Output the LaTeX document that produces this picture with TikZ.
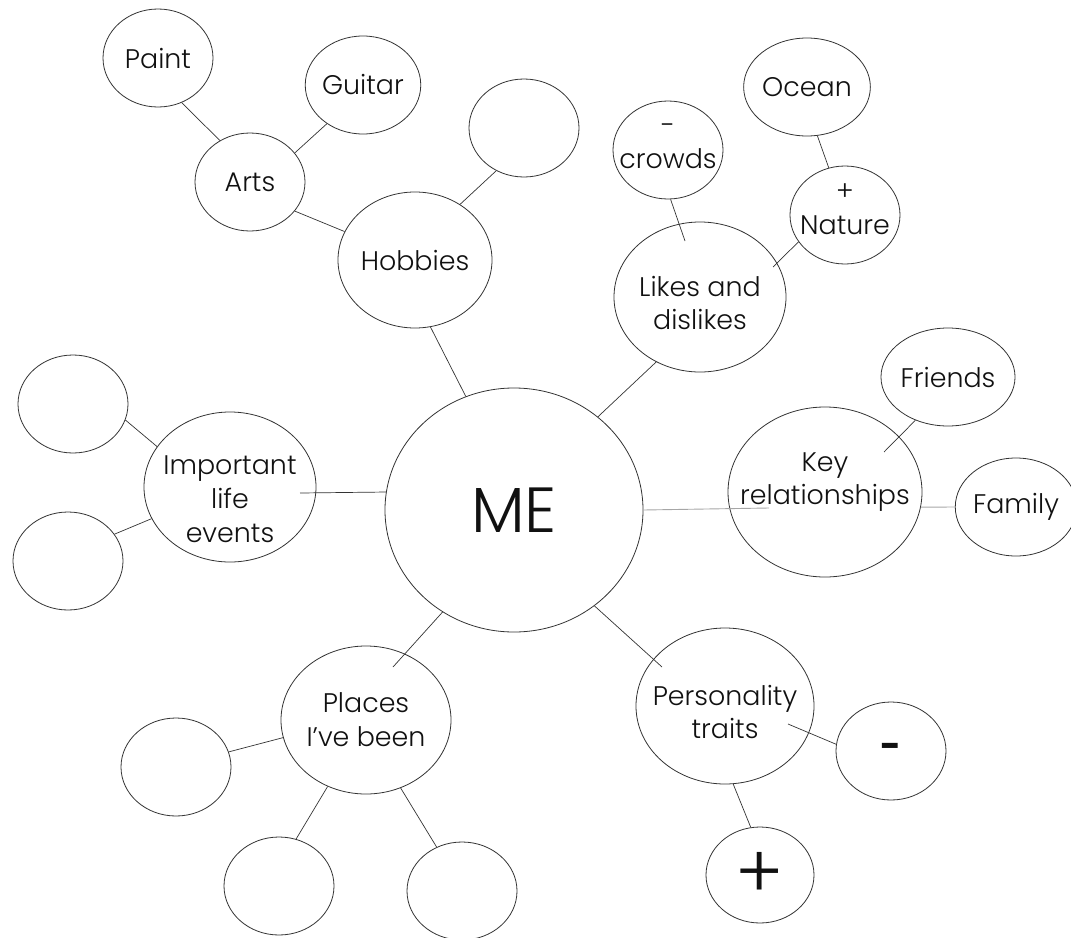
\documentclass[tikz,border=0pt]{standalone}
\usepackage{fontspec}
\setmainfont{Poppins Light}
\newfontfamily\heavy{Poppins}
\usetikzlibrary{shapes.geometric}
\definecolor{rim}{HTML}{333333}
\definecolor{ink}{HTML}{111111}
\tikzset{
  bubble/.style={ellipse, draw=rim, line width=0.8bp, inner sep=0pt, align=center,
    text=ink, font=\fontsize{27}{34}\selectfont},
  small/.style={bubble, minimum width=110bp, minimum height=98bp},
  nudge/.style={align=center, text=ink, font=\fontsize{27}{34}\selectfont, yshift=#1},
  link/.style={draw=rim, line width=0.7bp},
  pale/.style={draw=gray!70, line width=0.9bp}
}
\newcommand{\blank}[2]{\node[small] (#1) at #2 {};}

\begin{document}
\begin{tikzpicture}[x=1bp, y=-1bp]
    \useasboundingbox (0,0) rectangle (1071,938);
    \node[bubble, minimum width=258bp, minimum height=244bp, font=\fontsize{64}{70}\selectfont] (me) at (514,510) {ME};
    \node[bubble, minimum width=154bp, minimum height=136bp] (hobbies) at (415,260) {Hobbies};
    \node[small] (arts) at (250,182) {Arts};
    \node[small] (paint) at (158,58) {Paint};
    \node[small] (guitar) at (363,85) {Guitar};
    \blank{hobbyx}{(524,128)}
    \node[bubble, minimum width=172bp, minimum height=150bp,
      label={[nudge=-6bp]center:Likes and\\dislikes}] (likes) at (700,297) {};
    \node[small, label={[nudge=4bp]center:-\\crowds}] (crowds) at (668,150) {};
    \node[small, label={[nudge=6bp]center:+\\Nature}] (nature) at (845,215) {};
    \node[small] (ocean) at (807,87) {Ocean};
    \node[bubble, minimum width=194bp, minimum height=170bp,
      label={[nudge=10bp]center:Key\\relationships}] (key) at (825,492) {};
    \node[small] (friends) at (948,377) {Friends};
    \node[small] (family) at (1016,507) {Family};
    \node[bubble, minimum width=172bp, minimum height=150bp,
      label={[nudge=-12bp]center:Important\\life\\events}] (life) at (230,487) {};
    \blank{lifea}{(73,404)}
    \blank{lifeb}{(68,561)}
    \node[bubble, minimum width=170bp, minimum height=148bp] (places) at (366,720) {Places\\I’ve been};
    \blank{placesa}{(176,767)}
    \blank{placesb}{(279,886)}
    \blank{placesc}{(462,891)}
    \node[bubble, minimum width=178bp, minimum height=156bp,
      label={[nudge=-6bp]center:Personality\\traits}] (traits) at (725,706) {};
    \node[small, font=\fontsize{36}{40}\heavy\bfseries] (minus) at (891,751) {-};
    \node[small, minimum width=108bp, minimum height=96bp, font=\fontsize{74}{80}\selectfont] (plus) at (760,875) {+};
    \foreach \a/\b in {paint.-62/arts.126, guitar.-133/arts.33, arts.-33/hobbies.158,
      hobbies.51/hobbyx.-123, hobbies.-77/me.113, me.48/likes.-124, ocean.-78/nature.109,
      lifea.-17/life.151, lifeb.30/life.-158, places.-168/placesa.16,
      places.-120/placesb.70, places.-63/placesc.120, traits.-84/plus.101} {
      \draw[link] (\a) -- (\b);
    }
    \draw[link] (crowds.-87) -- ([shift={(-15,-56)}]likes.center);
    \draw[link] (nature.-150) -- ([shift={(73,-30)}]likes.center);
    \draw[link] (friends.-127) -- ([shift={(59,-40)}]key.center);
    \draw[link] ([shift={(70,6)}]life.center) -- (me.172);
    \draw[link] (me.-125) -- ([shift={(27,-53)}]places.center);
    \draw[link] (me.-50) -- ([shift={(-63,-39)}]traits.center);
    \draw[link] ([shift={(63,18)}]traits.center) -- (minus.173);
    \draw[pale] (me.east) -- ([shift={(-56,16)}]key.center);
    \draw[pale] (key.-9) -- (family.west);
  \end{tikzpicture}
\end{document}
